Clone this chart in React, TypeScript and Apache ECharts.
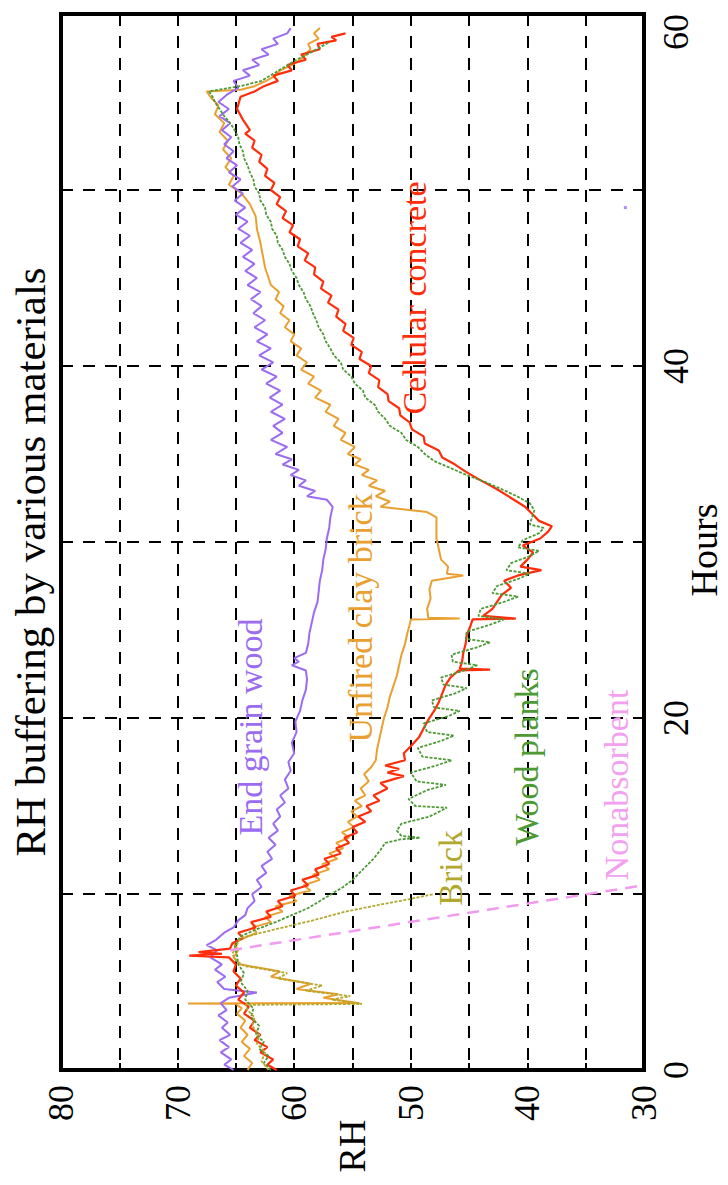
import React, { useEffect, useRef } from "react";
import * as echarts from "echarts";

// Axis tick labels
const rhTickLabels = [80, 70, 60, 50, 40, 30];
const hourTickLabels = [0, 20, 40, 60];

// Each series: [hours, RH]
const endGrainWood: [number, number][] = [
  [0, 65.2], [0.3, 66.0], [0.6, 65.4], [1.0, 66.3], [1.3, 65.6], [1.7, 66.4], [2.0, 65.5], [2.4, 66.2],
  [2.7, 65.7], [3.1, 66.5], [3.4, 65.8], [3.8, 66.3], [4.1, 65.6], [4.4, 63.2], [4.6, 66.0], [5.0, 66.6],
  [5.3, 65.9], [5.7, 66.8], [6.0, 66.2], [6.4, 67.2], [6.8, 66.6], [7.1, 67.5], [7.4, 66.7], [7.8, 66.0],
  [8.1, 65.2], [8.5, 64.8], [8.8, 64.2], [9.2, 64.0], [9.6, 63.4], [10.0, 63.6], [10.4, 62.8], [10.8, 63.2],
  [11.2, 62.4], [11.6, 62.8], [12.0, 61.9], [12.4, 62.3], [12.8, 61.6], [13.2, 62.2], [13.6, 61.4], [14.0, 61.8],
  [14.4, 61.2], [14.8, 61.5], [15.2, 60.8], [15.6, 61.2], [16.0, 60.5], [16.5, 60.8], [17.0, 60.3], [17.5, 60.5],
  [18.0, 60.0], [18.6, 60.2], [19.2, 59.8], [19.8, 59.9], [20.4, 59.5], [21.0, 59.3], [21.6, 59.0], [22.2, 58.9],
  [22.7, 59.0], [23.0, 60.2], [23.2, 59.6], [23.4, 60.0], [23.7, 59.0], [24.2, 58.8], [24.8, 58.7], [25.4, 58.5],
  [26.0, 58.3], [26.6, 58.0], [27.2, 57.9], [27.8, 57.8], [28.4, 57.6], [29.0, 57.5], [29.6, 57.3], [30.2, 57.2],
  [30.8, 57.0], [31.4, 56.9], [32.0, 56.7], [32.4, 57.2], [32.6, 58.9], [32.9, 58.2], [33.2, 59.6], [33.5, 59.0],
  [33.8, 60.3], [34.1, 59.6], [34.4, 61.0], [34.7, 60.2], [35.0, 61.6], [35.4, 60.6], [35.8, 62.0], [36.2, 61.0],
  [36.6, 61.8], [37.0, 60.8], [37.4, 62.0], [37.8, 61.0], [38.2, 62.1], [38.6, 61.2], [39.0, 62.4], [39.4, 61.5],
  [39.8, 62.8], [40.2, 61.8], [40.6, 63.0], [41.0, 62.0], [41.4, 63.2], [41.8, 62.3], [42.2, 63.4], [42.6, 62.5],
  [43.0, 63.5], [43.4, 62.8], [43.8, 63.7], [44.2, 62.9], [44.6, 64.0], [45.0, 63.2], [45.4, 64.2], [45.8, 63.4],
  [46.2, 64.4], [46.6, 63.6], [47.0, 64.6], [47.4, 63.8], [47.8, 64.8], [48.2, 64.0], [48.6, 65.0], [49.0, 64.2],
  [49.4, 65.1], [49.8, 64.4], [50.2, 65.3], [50.6, 64.6], [51.0, 65.6], [51.4, 64.9], [51.8, 65.8], [52.2, 65.2],
  [52.6, 66.0], [53.0, 65.4], [53.4, 66.2], [53.8, 65.5], [54.2, 66.4], [54.6, 65.6], [55.0, 66.5], [55.4, 65.8],
  [55.8, 64.8], [56.2, 65.2], [56.5, 63.8], [56.8, 64.4], [57.1, 63.0], [57.4, 63.6], [57.7, 62.2], [58.0, 62.8],
  [58.3, 61.4], [58.6, 61.8], [58.9, 60.6], [59.2, 60.3],
];

const unfiredClayBrick: [number, number][] = [
  [0, 64.0], [0.4, 63.6], [0.8, 64.3], [1.2, 63.8], [1.6, 64.5], [2.0, 64.0], [2.4, 64.6], [2.8, 64.2],
  [3.2, 64.9], [3.5, 64.5], [3.75, 65.0], [3.78, 69.1], [3.8, 54.4], [4.1, 57.5], [4.3, 56.2], [4.6, 59.8],
  [4.9, 58.6], [5.3, 62.0], [5.6, 61.2], [6.0, 64.6], [6.4, 65.2], [6.8, 64.8], [7.2, 65.2], [7.5, 64.3],
  [7.8, 63.2], [8.1, 63.6], [8.4, 62.0], [8.7, 62.5], [9.0, 61.0], [9.3, 61.6], [9.6, 59.8], [9.9, 60.4],
  [10.2, 58.6], [10.5, 59.2], [10.8, 57.8], [11.1, 58.4], [11.4, 57.0], [11.7, 57.6], [12.0, 56.3], [12.3, 57.0],
  [12.6, 55.8], [12.9, 56.4], [13.2, 55.3], [13.5, 55.9], [13.8, 54.9], [14.1, 55.4], [14.4, 54.6], [14.7, 55.1],
  [15.0, 54.2], [15.3, 54.8], [15.6, 53.9], [16.0, 54.3], [16.4, 53.6], [16.8, 54.0], [17.2, 53.4], [17.6, 53.0],
  [18.2, 52.9], [18.8, 52.7], [19.4, 52.5], [20.0, 52.3], [20.6, 52.0], [21.2, 51.8], [21.8, 51.5], [22.4, 51.2],
  [23.0, 51.0], [23.6, 50.8], [24.2, 50.5], [24.8, 50.3], [25.3, 50.1], [25.6, 50.0], [25.65, 45.8], [25.7, 48.5],
  [26.2, 48.6], [26.8, 48.3], [27.3, 48.4], [27.8, 48.2], [28.1, 45.5], [28.2, 46.9], [28.6, 46.8], [29.0, 47.4],
  [29.6, 47.6], [30.2, 47.8], [30.8, 47.8], [31.4, 47.8], [31.7, 48.6], [32.0, 52.6], [32.3, 51.8], [32.6, 53.0],
  [32.9, 52.2], [33.2, 53.6], [33.5, 52.9], [33.8, 54.2], [34.1, 53.6], [34.4, 54.8], [34.7, 54.3], [35.0, 55.4],
  [35.4, 54.8], [35.8, 56.0], [36.2, 55.6], [36.6, 56.6], [37.0, 56.2], [37.4, 57.3], [37.8, 56.9], [38.2, 58.2],
  [38.6, 57.7], [39.0, 58.8], [39.4, 58.3], [39.8, 59.4], [40.2, 58.9], [40.6, 59.8], [41.0, 59.4], [41.4, 60.3],
  [41.8, 60.0], [42.2, 60.8], [42.6, 60.4], [43.0, 61.2], [43.4, 60.9], [43.8, 61.6], [44.2, 61.3], [44.6, 62.0],
  [45.0, 62.2], [45.6, 62.5], [46.3, 62.7], [47.0, 62.9], [47.8, 63.2], [48.5, 63.3], [49.2, 63.8], [49.8, 64.5],
  [50.3, 65.6], [50.8, 65.2], [51.3, 65.9], [51.8, 65.4], [52.3, 66.1], [52.8, 65.7], [53.3, 66.4], [53.8, 66.0],
  [54.3, 66.8], [54.8, 66.5], [55.3, 67.2], [55.6, 67.5], [55.7, 64.6], [55.9, 63.4], [56.2, 62.4], [56.5, 61.6],
  [56.8, 61.2], [57.1, 60.2], [57.4, 59.5], [57.7, 59.0], [58.0, 58.6], [58.3, 58.8], [58.6, 57.9], [58.9, 58.3],
  [59.2, 57.8],
];

const cellularConcrete: [number, number][] = [
  [0, 61.5], [0.3, 62.3], [0.6, 61.8], [1.0, 62.9], [1.3, 62.3], [1.7, 63.4], [2.0, 62.9], [2.4, 63.8],
  [2.8, 63.4], [3.2, 64.3], [3.6, 63.9], [4.0, 64.8], [4.4, 64.3], [4.8, 65.0], [5.2, 64.6], [5.6, 65.2],
  [6.0, 65.0], [6.4, 65.6], [6.5, 69.0], [6.6, 66.2], [6.7, 68.2], [6.9, 65.5], [7.2, 65.3], [7.5, 64.4],
  [7.8, 64.8], [8.1, 63.3], [8.4, 63.7], [8.7, 62.0], [9.0, 62.4], [9.3, 61.0], [9.6, 61.4], [9.9, 59.9],
  [10.2, 60.3], [10.5, 58.8], [10.8, 59.3], [11.1, 57.9], [11.4, 58.2], [11.7, 57.0], [12.0, 57.4], [12.3, 56.0],
  [12.6, 56.4], [12.9, 55.3], [13.2, 55.7], [13.5, 54.6], [13.8, 55.0], [14.1, 53.9], [14.4, 54.5], [14.7, 53.4],
  [15.0, 53.8], [15.3, 52.7], [15.6, 53.2], [16.0, 52.0], [16.3, 52.6], [16.7, 50.6], [16.9, 52.0], [17.1, 51.0],
  [17.3, 52.2], [17.6, 50.5], [18.0, 50.6], [18.4, 50.0], [18.9, 49.3], [19.4, 48.9], [19.9, 48.5], [20.4, 48.0],
  [20.9, 47.6], [21.4, 47.3], [21.9, 47.0], [22.3, 46.6], [22.7, 45.9], [22.75, 43.2], [22.8, 45.8], [23.2, 45.6],
  [23.7, 45.5], [24.2, 45.3], [24.7, 45.2], [25.2, 44.9], [25.6, 44.7], [25.65, 41.0], [25.8, 43.8], [26.2, 43.0],
  [26.6, 42.6], [27.0, 42.2], [27.4, 41.4], [27.8, 42.0], [28.1, 40.8], [28.4, 38.8], [28.6, 40.6], [29.0, 40.0],
  [29.4, 39.5], [29.8, 40.4], [30.2, 38.9], [30.6, 38.2], [30.9, 37.9], [31.2, 39.0], [31.6, 39.6], [32.0, 40.2],
  [32.5, 41.4], [33.0, 42.6], [33.5, 44.0], [34.0, 45.3], [34.4, 46.2], [34.8, 47.3], [35.2, 47.6], [35.6, 48.8],
  [36.0, 48.9], [36.4, 49.9], [36.8, 50.1], [37.2, 50.9], [37.6, 51.0], [38.0, 51.9], [38.4, 52.0], [38.8, 52.8],
  [39.2, 52.7], [39.6, 53.6], [40.0, 53.4], [40.4, 54.4], [40.8, 54.2], [41.2, 55.1], [41.6, 54.9], [42.0, 55.8],
  [42.4, 55.6], [42.8, 56.4], [43.2, 56.2], [43.6, 57.1], [44.0, 56.8], [44.4, 57.7], [44.8, 57.5], [45.2, 58.3],
  [45.6, 58.2], [46.0, 59.1], [46.4, 58.8], [46.8, 59.7], [47.2, 59.5], [47.6, 60.4], [48.0, 60.1], [48.4, 61.0],
  [48.8, 60.7], [49.2, 61.5], [49.6, 61.2], [50.0, 62.0], [50.4, 61.7], [50.8, 62.5], [51.2, 62.3], [51.6, 63.0],
  [52.0, 62.8], [52.4, 63.6], [52.8, 63.4], [53.2, 64.2], [53.4, 63.8], [54.0, 64.4], [54.6, 64.9], [55.3, 64.6],
  [55.6, 63.4], [55.9, 62.6], [56.2, 61.4], [56.5, 61.8], [56.8, 60.2], [57.1, 60.6], [57.4, 59.0], [57.7, 59.4],
  [58.0, 57.8], [58.3, 58.0], [58.5, 56.4], [58.7, 56.8], [58.9, 55.6],
];

const woodPlanks: [number, number][] = [
  [0, 62.0], [0.4, 62.6], [0.8, 62.2], [1.2, 63.0], [1.6, 62.6], [2.0, 63.3], [2.5, 63.0], [3.0, 63.7],
  [3.5, 63.5], [4.0, 64.2], [4.5, 64.0], [5.0, 64.6], [5.5, 64.3], [6.0, 64.8], [6.5, 64.9], [7.0, 65.1],
  [7.6, 64.6], [8.0, 63.2], [8.4, 61.6], [8.8, 60.2], [9.2, 58.8], [9.6, 57.8], [10.0, 56.8], [10.4, 55.8],
  [10.8, 55.0], [11.2, 54.4], [11.6, 53.8], [12.0, 53.2], [12.5, 52.6], [12.9, 52.2], [13.1, 50.9], [13.2, 49.2],
  [13.3, 50.8], [13.6, 51.2], [14.0, 50.8], [14.4, 48.4], [14.9, 46.9], [15.0, 49.6], [15.4, 50.2], [15.9, 48.6],
  [16.2, 47.0], [16.4, 49.5], [16.9, 50.0], [17.3, 47.8], [17.6, 46.5], [17.8, 49.0], [18.3, 49.4], [18.7, 47.4],
  [19.0, 46.3], [19.2, 48.6], [19.7, 48.9], [20.1, 46.8], [20.4, 45.8], [20.6, 48.0], [21.0, 48.2], [21.4, 46.2],
  [21.7, 45.2], [21.9, 47.2], [22.3, 47.4], [22.7, 45.4], [23.0, 44.3], [23.2, 46.4], [23.6, 46.5], [24.0, 44.4],
  [24.3, 43.2], [24.5, 45.3], [24.9, 45.2], [25.3, 43.2], [25.6, 42.0], [25.8, 44.2], [26.2, 44.0], [26.6, 42.0],
  [26.9, 40.8], [27.1, 43.0], [27.5, 42.6], [27.9, 40.8], [28.2, 39.8], [28.4, 41.8], [28.8, 41.4], [29.2, 39.8],
  [29.5, 39.0], [29.7, 40.8], [30.1, 40.4], [30.5, 39.0], [30.8, 38.6], [31.0, 39.8], [31.4, 39.6], [31.8, 39.4],
  [32.2, 39.8], [32.6, 40.9], [33.0, 42.2], [33.4, 43.6], [33.8, 45.2], [34.2, 46.6], [34.6, 48.0], [35.0, 48.8],
  [35.4, 49.4], [35.8, 50.4], [36.2, 50.8], [36.6, 51.8], [37.0, 52.2], [37.4, 52.8], [37.8, 53.1], [38.2, 53.9],
  [38.6, 54.1], [39.0, 54.8], [39.4, 55.1], [39.8, 55.8], [40.2, 56.0], [40.6, 56.6], [41.0, 56.9], [41.4, 57.3],
  [41.8, 57.5], [42.2, 57.9], [42.6, 58.1], [43.0, 58.4], [43.4, 58.6], [43.8, 59.0], [44.2, 59.2], [44.6, 59.6],
  [45.0, 59.8], [45.4, 60.2], [45.8, 60.4], [46.2, 60.8], [46.6, 61.0], [47.0, 61.4], [47.4, 61.5], [47.8, 61.9],
  [48.2, 62.0], [48.6, 62.4], [49.0, 62.5], [49.4, 62.9], [49.8, 63.0], [50.2, 63.4], [50.6, 63.5], [51.0, 63.8],
  [51.4, 64.0], [51.8, 64.3], [52.2, 64.4], [52.6, 64.7], [53.0, 64.8], [53.4, 65.1], [53.8, 65.5], [54.2, 66.0],
  [54.6, 66.4], [55.0, 66.8], [55.3, 67.0], [55.6, 67.3], [55.9, 64.6], [56.2, 62.8], [56.6, 61.8], [57.0, 60.8],
  [57.4, 59.8], [57.8, 58.6], [58.1, 57.8], [58.4, 57.0],
];

const brick: [number, number][] = [
  [0, 62.2], [0.5, 62.8], [1.0, 62.5], [1.5, 63.2], [2.0, 63.0], [2.5, 63.6], [3.0, 63.4], [3.4, 64.0],
  [3.7, 64.2], [3.75, 54.2], [4.0, 56.8], [4.2, 55.2], [4.5, 59.0], [4.8, 57.6], [5.2, 61.4], [5.5, 60.6],
  [5.9, 64.2], [6.2, 65.0], [6.6, 65.3], [7.0, 65.0], [7.5, 64.6], [8.0, 61.6], [8.5, 58.4], [9.0, 55.6],
  [9.4, 52.6], [9.7, 50.2], [10.0, 48.0],
];

const nonabsorbent: [number, number][] = [
  [6.8, 65.5], [10.5, 30.0],
];

const strayPoint: [number, number][] = [[49.0, 31.6]];

const SERIF = "Liberation Serif";

export default function App() {
  const ref = useRef<HTMLDivElement>(null);

  useEffect(() => {
    if (!ref.current) return;
    const chart = echarts.init(ref.current, null, { renderer: "svg" });
    const toXY = (d: [number, number][]) => d.map(([h, rh]) => [rh, h]);

    const lineSeries = (name: string, data: [number, number][], color: string, width: number, type: any = "solid", z = 2) => ({
      type: "line",
      name,
      data: toXY(data),
      symbol: "none",
      showSymbol: false,
      smooth: false,
      z,
      lineStyle: { color, width, type },
      itemStyle: { color },
      animation: false,
    });

    const label = (text: string, x: number, y: number, color: string, size = 34) => ({
      type: "text",
      x,
      y,
      rotation: Math.PI / 2,
      z: 50,
      style: {
        text,
        fill: color,
        fontSize: size,
        fontFamily: SERIF,
        align: "center",
        verticalAlign: "middle",
      },
    });

    chart.setOption({
      animation: false,
      backgroundColor: "#ffffff",
      textStyle: { fontFamily: SERIF },
      grid: {
        left: 61,
        right: 84,
        top: 14,
        bottom: 115,
        show: true,
        borderColor: "#000",
        borderWidth: 4,
        backgroundColor: "transparent",
        containLabel: false,
      },
      xAxis: {
        type: "value",
        min: 30,
        max: 80,
        interval: 5,
        inverse: true,
        position: "bottom",
        axisLine: { show: false },
        axisTick: { show: true, inside: true, length: 7, lineStyle: { color: "#000", width: 2 } },
        splitLine: { show: true, lineStyle: { color: "#000", width: 2, type: [12, 10] } },
        axisLabel: {
          rotate: 90,
          margin: 15,
          fontSize: 36,
          fontFamily: SERIF,
          color: "#000",
          formatter: (v: number) => (rhTickLabels.includes(v) ? String(v) : ""),
        },
      },
      yAxis: {
        type: "value",
        min: 0,
        max: 60,
        interval: 10,
        position: "right",
        axisLine: { show: false },
        axisTick: { show: true, inside: true, length: 7, lineStyle: { color: "#000", width: 2 } },
        splitLine: { show: true, lineStyle: { color: "#000", width: 2, type: [12, 10] } },
        axisLabel: {
          rotate: 90,
          margin: 14,
          fontSize: 36,
          fontFamily: SERIF,
          color: "#000",
          alignMaxLabel: "right",
          formatter: (v: number) => (hourTickLabels.includes(v) ? String(v) : ""),
        },
      },
      series: [
        lineSeries("Unfired clay brick", unfiredClayBrick, "#e9a030", 2, "solid", 3),
        lineSeries("End grain wood", endGrainWood, "#9b6cf2", 2, "solid", 4),
        lineSeries("Cellular concrete", cellularConcrete, "#ff2d0a", 2.2, "solid", 5),
        lineSeries("Wood planks", woodPlanks, "#4d9a35", 1.8, [3, 1.5], 6),
        lineSeries("Brick", brick, "#b3a82e", 1.8, [3, 1.5], 7),
        lineSeries("Nonabsorbent", nonabsorbent, "#f29af0", 2.5, [12, 8], 8),
        {
          type: "scatter",
          name: "End grain wood (stray)",
          data: toXY(strayPoint),
          symbol: "rect",
          symbolSize: 3,
          itemStyle: { color: "#9b6cf2" },
          z: 4,
        },
      ],
      graphic: [
        label("RH buffering by various materials", 30, 562, "#000", 43),
        label("RH", 352, 1146, "#000", 38),
        label("Hours", 704, 550, "#000", 38),
        label("End grain wood", 250, 727, "#9b6cf2", 34),
        label("Unfired clay brick", 360, 618, "#e9a030", 34),
        label("Cellular concrete", 414, 298, "#ff2d0a", 34),
        label("Brick", 450, 868, "#b3a82e", 34),
        label("Wood planks", 526, 757, "#4d9a35", 34),
        label("Nonabsorbent", 616, 785, "#f3a0f0", 34),
      ],
    });

    return () => chart.dispose();
  }, []);

  return (
    <div
      ref={ref}
      style={{ position: "absolute", left: 0, top: 0, width: 728, height: 1185, background: "#fff" }}
    />
  );
}
